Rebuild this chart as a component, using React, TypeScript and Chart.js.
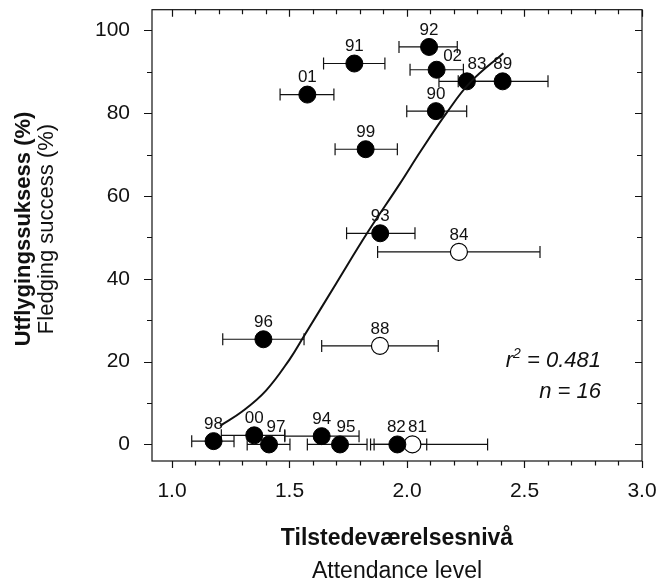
import React, { useEffect, useRef } from "react";
import { Chart, registerables } from "chart.js";

Chart.register(...registerables);

// Breeding seasons with full colony counts (filled markers)
const filledYears = ["98", "00", "97", "94", "95", "82", "96", "93", "99", "90", "01", "91", "92", "02", "83", "89"];
const filledAttendance = [1.177, 1.35, 1.413, 1.637, 1.715, 1.959, 1.389, 1.886, 1.824, 2.123, 1.576, 1.776, 2.094, 2.126, 2.255, 2.407];
const filledSuccess = [0.8, 2.2, 0, 2.0, 0, 0, 25.4, 51.0, 71.3, 80.5, 84.5, 92.0, 96.0, 90.5, 87.7, 87.7];
const filledLow = [1.084, 1.21, 1.32, 1.48, 1.576, 1.845, 1.216, 1.743, 1.694, 1.999, 1.46, 1.645, 1.966, 2.013, 2.136, 2.218];
const filledHigh = [1.264, 1.48, 1.502, 1.796, 1.83, 2.084, 1.562, 2.034, 1.959, 2.254, 1.689, 1.906, 2.214, 2.24, 2.38, 2.6];

// Seasons left out of the fit (open markers)
const openYears = ["81", "84", "88"];
const openAttendance = [2.023, 2.221, 1.885];
const openSuccess = [0, 46.5, 23.8];
const openLow = [1.86, 1.875, 1.637];
const openHigh = [2.343, 2.566, 2.133];

// Fitted response curve
const curveAttendance = [1.205, 1.3, 1.4, 1.5, 1.56, 1.7, 1.83, 1.97, 2.06, 2.17, 2.27, 2.41];
const curveSuccess = [4.5, 8.0, 13.0, 20.5, 26.0, 39.0, 51.0, 63.0, 71.0, 80.2, 87.5, 94.5];

// Axis tick labels
const xTickValues = [1.0, 1.5, 2.0, 2.5, 3.0];
const yTickValues = [0, 20, 40, 60, 80, 100];

const FONT = '"Liberation Sans", Arial, Helvetica, sans-serif';
const INK = "#111111";

// Small nudges for year labels that would otherwise collide
const labelNudge: Record<string, [number, number]> = {
  "02": [16, 4],
  "83": [10, 0],
  "97": [7, 0],
  "95": [6, 0],
  "81": [5, 0],
  "82": [-1, 0],
};

const errorBarsAndLabels = {
  id: "errorBarsAndLabels",
  beforeDatasetsDraw(chart: any) {
    const { ctx, scales } = chart;
    const xs = scales.x;
    const ys = scales.y;
    ctx.save();
    ctx.strokeStyle = INK;
    ctx.lineWidth = 1.2;
    const drawBars = (ys0: number[], lo: number[], hi: number[]) => {
      ys0.forEach((v, i) => {
        const py = ys.getPixelForValue(v);
        const x1 = xs.getPixelForValue(lo[i]);
        const x2 = xs.getPixelForValue(hi[i]);
        ctx.beginPath();
        ctx.moveTo(x1, py);
        ctx.lineTo(x2, py);
        ctx.moveTo(x1, py - 6);
        ctx.lineTo(x1, py + 6);
        ctx.moveTo(x2, py - 6);
        ctx.lineTo(x2, py + 6);
        ctx.stroke();
      });
    };
    drawBars(filledSuccess, filledLow, filledHigh);
    drawBars(openSuccess, openLow, openHigh);
    ctx.restore();
  },
  afterDatasetsDraw(chart: any) {
    const { ctx, scales } = chart;
    const xs = scales.x;
    const ys = scales.y;
    ctx.save();
    ctx.fillStyle = INK;
    ctx.font = `17px ${FONT}`;
    ctx.textAlign = "center";
    ctx.textBaseline = "middle";
    const drawLabels = (names: string[], xv: number[], yv: number[]) => {
      names.forEach((n, i) => {
        const [dx, dy] = labelNudge[n] || [0, 0];
        const px = xs.getPixelForValue(xv[i]) + dx;
        const py = ys.getPixelForValue(yv[i]) - 17 + dy;
        ctx.fillText(n, px, py);
      });
    };
    drawLabels(filledYears, filledAttendance, filledSuccess);
    drawLabels(openYears, openAttendance, openSuccess);
    ctx.restore();
  },
  afterDraw(chart: any) {
    const { ctx, chartArea, scales } = chart;
    const { left, right, top, bottom } = chartArea;
    const xs = scales.x;
    const ys = scales.y;
    ctx.save();
    ctx.strokeStyle = INK;
    ctx.lineWidth = 1.2;
    ctx.strokeRect(left, top, right - left, bottom - top);

    ctx.beginPath();
    for (let i = 10; i <= 30; i++) {
      const px = Math.round(xs.getPixelForValue(i / 10)) + 0.5;
      const major = i % 5 === 0;
      ctx.moveTo(px, bottom);
      ctx.lineTo(px, bottom + (major ? 7 : 4.5));
      ctx.moveTo(px, top);
      ctx.lineTo(px, top + (major ? 7 : 4.5));
    }
    for (let i = 0; i <= 10; i++) {
      const py = Math.round(ys.getPixelForValue(i * 10)) + 0.5;
      const major = i % 2 === 0;
      ctx.moveTo(left, py);
      ctx.lineTo(left - (major ? 8 : 5), py);
      ctx.moveTo(right, py);
      ctx.lineTo(right - (major ? 7 : 5), py);
    }
    ctx.stroke();

    // axis titles
    ctx.fillStyle = INK;
    ctx.textAlign = "center";
    ctx.textBaseline = "alphabetic";
    const cx = (left + right) / 2;
    ctx.font = `bold 23px ${FONT}`;
    ctx.fillText("Tilstedeværelsesnivå", cx, 545);
    ctx.font = `23px ${FONT}`;
    ctx.fillText("Attendance level", cx, 578);

    ctx.save();
    ctx.translate(0, 229);
    ctx.rotate(-Math.PI / 2);
    ctx.font = `bold 22px ${FONT}`;
    ctx.fillText("Utflygingssuksess (%)", 0, 30);
    ctx.font = `22px ${FONT}`;
    ctx.fillText("Fledging success (%)", 0, 53);
    ctx.restore();

    // fit statistics
    const rightEdge = right - 41;
    ctx.textAlign = "left";
    ctx.font = `italic 22px ${FONT}`;
    const wR = ctx.measureText("r").width;
    const rest = " = 0.481";
    const wRest = ctx.measureText(rest).width;
    ctx.font = `italic 14px ${FONT}`;
    const w2 = ctx.measureText("2").width;
    const startX = rightEdge - (wR + w2 + wRest);
    const base1 = 367;
    ctx.font = `italic 22px ${FONT}`;
    ctx.fillText("r", startX, base1);
    ctx.font = `italic 14px ${FONT}`;
    ctx.fillText("2", startX + wR, base1 - 9);
    ctx.font = `italic 22px ${FONT}`;
    ctx.fillText(rest, startX + wR + w2, base1);
    ctx.textAlign = "right";
    ctx.fillText("n = 16", rightEdge, 398);
    ctx.restore();
  },
};

export default function App() {
  const canvasRef = useRef<HTMLCanvasElement | null>(null);

  useEffect(() => {
    if (!canvasRef.current) return;
    const chart = new Chart(canvasRef.current, {
      type: "scatter",
      data: {
        datasets: [
          {
            type: "line",
            data: curveAttendance.map((x, i) => ({ x, y: curveSuccess[i] })),
            borderColor: INK,
            borderWidth: 2,
            pointRadius: 0,
            tension: 0.4,
            fill: false,
          } as any,
          {
            data: filledAttendance.map((x, i) => ({ x, y: filledSuccess[i] })),
            pointRadius: 8.5,
            pointBackgroundColor: "#000000",
            pointBorderColor: "#000000",
            pointBorderWidth: 1,
          },
          {
            data: openAttendance.map((x, i) => ({ x, y: openSuccess[i] })),
            pointRadius: 8.5,
            pointBackgroundColor: "#ffffff",
            pointBorderColor: "#000000",
            pointBorderWidth: 1.2,
          },
        ],
      },
      options: {
        responsive: false,
        animation: false,
        layout: { padding: { top: 8, right: 28, left: 0, bottom: 0 } },
        plugins: {
          legend: { display: false },
          tooltip: { enabled: false },
        },
        scales: {
          x: {
            type: "linear",
            min: 0.915,
            max: 3.0,
            grid: { display: false, drawTicks: false },
            border: { display: false },
            afterBuildTicks: (scale: any) => {
              scale.ticks = xTickValues.map((v) => ({ value: v }));
            },
            afterFit: (scale: any) => {
              scale.height = 125;
              scale.paddingLeft = 0;
              scale.paddingRight = 0;
            },
            ticks: {
              color: INK,
              font: { family: FONT, size: 21 },
              padding: 18,
              maxRotation: 0,
              callback: (v: any) => Number(v).toFixed(1),
            },
          },
          y: {
            type: "linear",
            min: -4,
            max: 105,
            grid: { display: false, drawTicks: false },
            border: { display: false },
            afterBuildTicks: (scale: any) => {
              scale.ticks = yTickValues.map((v) => ({ value: v }));
            },
            afterFit: (scale: any) => {
              scale.width = 152;
              scale.paddingTop = 0;
              scale.paddingBottom = 0;
            },
            ticks: {
              color: INK,
              font: { family: FONT, size: 21 },
              padding: 22,
              callback: (v: any) => String(v),
            },
          },
        },
      },
      plugins: [errorBarsAndLabels],
    });
    return () => chart.destroy();
  }, []);

  return (
    <div style={{ position: "absolute", left: 0, top: 0, width: 670, height: 586, background: "#ffffff" }}>
      <canvas ref={canvasRef} width={670} height={586} style={{ display: "block" }} />
    </div>
  );
}
